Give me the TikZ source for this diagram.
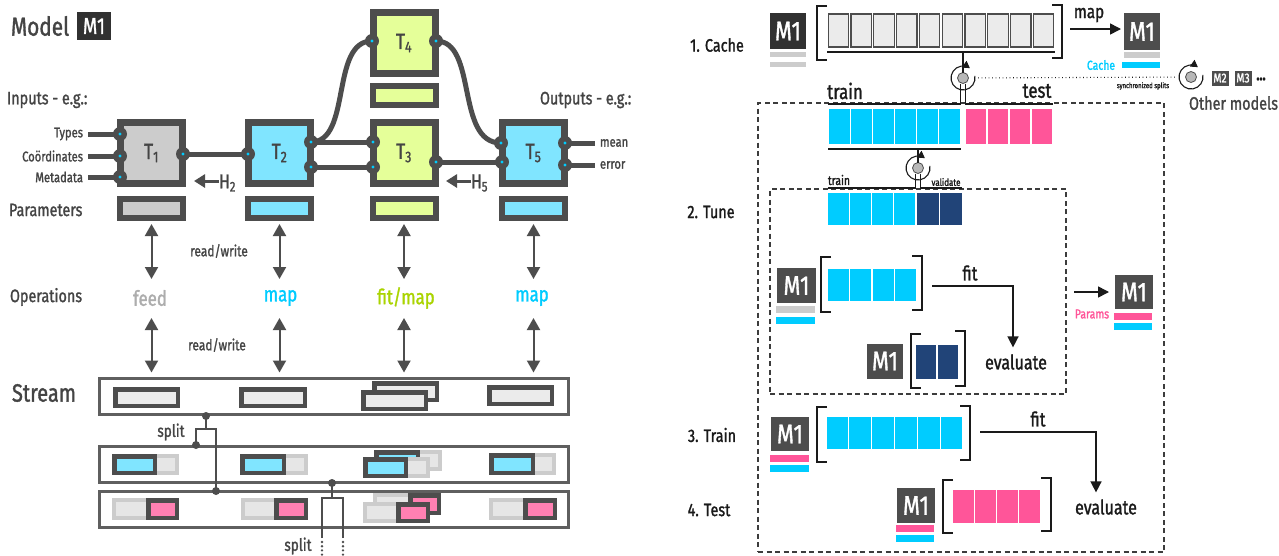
\documentclass[tikz,border=0pt]{standalone}
\usepackage{fontspec}
\setmainfont{Fira Sans}[FakeStretch=0.8, FakeBold=1.3]
\usetikzlibrary{arrows.meta}
\definecolor{dg}{HTML}{4D4D4D}
\definecolor{tx}{HTML}{444444}
\definecolor{blk}{HTML}{1A1A1A}
\definecolor{lcyan}{HTML}{80E5FF}
\definecolor{cyn}{HTML}{00CCFF}
\definecolor{pnk}{HTML}{FF5599}
\definecolor{lpnk}{HTML}{FF80B2}
\definecolor{ylw}{HTML}{E5FF99}
\definecolor{ygrn}{HTML}{AAD400}
\definecolor{lgr}{HTML}{CCCCCC}
\definecolor{fgr}{HTML}{E6E6E6}
\definecolor{vlgr}{HTML}{EBEBEB}
\definecolor{dblue}{HTML}{214478}
\newcommand\myfs[1]{\fontsize{#1}{#1}\selectfont}
\newcommand\cellrow[6]{\foreach \i in {1,...,#3}{\filldraw[fill=#6,draw=white,line width=1.2pt] ({#1+(\i-1)*#2},#4) rectangle ({#1+\i*#2},#5);}}
\newcommand\brkt[6]{\draw[brk] ({#1+10},#3) -| (#1,#4) -- ({#1+10},#4); \draw[brk] ({#2-10},#5) -| (#2,#6) -- ({#2-10},#6);}
\newcommand\fadedbox[4]{\fill[lgr] (#1,#2) rectangle (#3,#4); \fill[fgr] ({#1+4},{#2+4}) rectangle ({#3-4},{#4-4});}
\newcommand\stbox[5]{\filldraw[fill=#5,draw=dg,line width=4.5pt] ({#1+2.25},{#2+2.25}) rectangle ({#3-2.25},{#4-2.25});}
\newcommand\ringarc[1]{\draw[ringl] ([shift={(10:12pt)}]#1.center) arc[start angle=10, end angle=-305, radius=12pt];}
\pgfdeclarelayer{bg}\pgfdeclarelayer{wires}
\pgfsetlayers{bg,wires,main}
\begin{document}
\begin{tikzpicture}[x=1pt,y=-1pt,
  every node/.style={inner sep=0pt, outer sep=0pt},
  tbox/.style={draw=dg, line width=7pt, minimum width=62pt, minimum height=61pt, font=\myfs{22}, text=tx},
  pbox/.style={draw=dg, line width=6pt, minimum width=63pt, minimum height=19pt},
  port/.style={circle, fill=dg, minimum size=14pt, path picture={\fill[cyn] (path picture bounding box.center) circle (1.7pt);}},
  wire/.style={draw=dg, line width=5pt},
  lab/.style={text=tx, font=\myfs{14}},
  harrow/.style={draw=dg, line width=3pt, -{Triangle[length=11pt,width=13pt]}},
  darr/.style={draw=dg, line width=2pt, {Triangle[length=12pt,width=13pt]}-{Triangle[length=12pt,width=13pt]}},
  sbar/.style={draw=dg!90, line width=3pt, minimum width=469pt, minimum height=36pt},
  sdot/.style={circle, fill=dg, minimum size=8pt},
  sline/.style={draw=dg, line width=1.6pt},
  mbox/.style={fill=dg, text=white, font=\myfs{27}, minimum width=37pt, minimum height=35pt},
  brk/.style={draw=blk, line width=1.5pt},
  ringl/.style={draw=blk, line width=1.1pt, -{Triangle[length=7pt,width=8pt]}},
  hub/.style={circle, fill=lgr!90!black, draw=dg, line width=0.8pt, minimum size=11pt},
  thl/.style={draw=blk, line width=1.3pt},
  barr/.style={draw=blk, line width=1.5pt, -{Triangle[length=11pt,width=11pt]}},
  dbox/.style={draw=blk!85, line width=1.3pt, dash pattern=on 5pt off 3.5pt},
  rt/.style={text=blk, font=\myfs{20}}
]
\begin{pgfonlayer}{bg}
\fill[white] (0,0) rectangle (1279,555);
\end{pgfonlayer}
\useasboundingbox (0,0) rectangle (1279,555);

% ================= LEFT: model =================
\node[anchor=west, text=tx, font=\myfs{26}] (model) at (11,26) {Model};
\node[fill=blk!90, text=white, font=\myfs{23}, minimum width=34pt, minimum height=28pt] (mm1) at (94,26) {M1};

\node[anchor=west, text=tx, font=\myfs{18}] (inlab) at (7,100) {Inputs - e.g.:};
\node[anchor=west, text=tx, font=\myfs{18}] (outlab) at (540,100) {Outputs - e.g.:};

% transformer boxes
\node[tbox, fill=lgr]   (T1) at (151.5,153) {T\textsubscript{1}};
\node[tbox, fill=lcyan] (T2) at (279.5,153) {T\textsubscript{2}};
\node[tbox, fill=ylw]   (T3) at (404,153)   {T\textsubscript{3}};
\node[tbox, fill=ylw]   (T4) at (404,43)    {T\textsubscript{4}};
\node[tbox, fill=lcyan] (T5) at (533.5,153) {T\textsubscript{5}};

% parameter boxes
\node[pbox, fill=lgr]   (P1) at (151.5,208.5) {};
\node[pbox, fill=lcyan] (P2) at (279.5,208.5) {};
\node[pbox, fill=ylw]   (P3) at (404,208.5)   {};
\node[pbox, fill=ylw]   (P4) at (404,95.5)    {};
\node[pbox, fill=lcyan] (P5) at (533.5,208.5) {};

% ports
\node[port] (t1a) at (120,134) {};
\node[port] (t1b) at (120,156) {};
\node[port] (t1c) at (120,177) {};
\node[port] (t1o) at (183,154) {};
\node[port] (t2i) at (248,154) {};
\node[port] (t2o1) at (311,142) {};
\node[port] (t2o2) at (311,167) {};
\node[port] (t3i1) at (373,142) {};
\node[port] (t3i2) at (373,167) {};
\node[port] (t3o) at (436,162) {};
\node[port] (t4i) at (372,41) {};
\node[port] (t4o) at (436,41) {};
\node[port] (t5i1) at (501,143) {};
\node[port] (t5i2) at (502,162) {};
\node[port] (t5o1) at (565,143) {};
\node[port] (t5o2) at (565,165) {};

% input / output labels
\node[lab, anchor=east] (ltypes) at (83,134) {Types};
\node[lab, anchor=east] (lcoord) at (83,156) {Coördinates};
\node[lab, anchor=east] (lmeta) at (83,177) {Metadata};
\node[lab, anchor=west] (lmean) at (600,143) {mean};
\node[lab, anchor=west] (lerr) at (600,165) {error};

\begin{pgfonlayer}{wires}
\draw[wire] ([xshift=5pt]ltypes.east) -- (t1a.center);
\draw[wire] ([xshift=5pt]lcoord.east) -- (t1b.center);
\draw[wire] ([xshift=5pt]lmeta.east) -- (t1c.center);
\draw[wire] (t1o.center) -- (t2i.center);
\draw[wire] (t2o1.center) -- (t3i1.center);
\draw[wire] (t2o2.center) -- (t3i2.center);
\draw[wire] (t3o.center) -- (t5i2.center);
\draw[wire] (t2o1.center) .. controls (352,142) and (330,41) .. (t4i.center);
\draw[wire] (t4o.center) .. controls (478,41) and (455,143) .. (t5i1.center);
\draw[wire] (t5o1.center) -- ([xshift=-5pt]lmean.west);
\draw[wire] (t5o2.center) -- ([xshift=-5pt]lerr.west);
\end{pgfonlayer}

% H arrows
\node[text=tx, font=\myfs{20}, anchor=west] (h2) at (219,183) {H\textsubscript{2}};
\coordinate (h2t) at (194,181);
\draw[harrow] ([yshift=2pt]h2.west) -- (h2t);
\node[text=tx, font=\myfs{20}, anchor=west] (h5) at (471,183) {H\textsubscript{5}};
\coordinate (h5t) at (446,181);
\draw[harrow] ([yshift=2pt]h5.west) -- (h5t);

% row labels
\node[anchor=west, text=tx, font=\myfs{18}] (lpar) at (9,210) {Parameters};
\node[anchor=west, text=tx, font=\myfs{18}] (lops) at (10,297) {Operations};
\node[anchor=west, text=tx, font=\myfs{25}] (lstr) at (12,393) {Stream};
\node[text=tx, font=\myfs{15}] (rw1) at (219,251) {read/write};
\node[text=tx, font=\myfs{15}] (rw2) at (217,345) {read/write};

% operations
\node[text=lgr!85!black, font=\myfs{21}] (opf) at (150,298) {feed};
\node[text=cyn, font=\myfs{21}] (opm1) at (280.5,298) {map};
\node[text=ygrn, font=\myfs{21}] (opfm) at (406,298) {fit/map};
\node[text=cyn, font=\myfs{21}] (opm2) at (532,298) {map};

% stream boxes
\node[sbar] (stream) at (334,396.5) {};
\node[sbar] (trs) at (334,464) {};
\node[sbar] (tes) at (334,509) {};

% double arrows
\foreach \p/\o in {P1/opf,P2/opm1,P3/opfm,P5/opm2}{
  \draw[darr] ([yshift=-6pt]\p.south) -- ([yshift=19pt]\p.center |- \o.center);
  \draw[darr] ([yshift=-20pt]\p.center |- \o.center) -- ([yshift=6pt]\p.center |- stream.north);
}

% stream items
\stbox{113}{387}{180}{408}{vlgr}
\stbox{239}{387}{307}{408}{vlgr}
\stbox{372}{381}{439}{402}{vlgr}
\stbox{361}{390}{428}{411}{vlgr}
\stbox{487}{385}{554}{406}{vlgr}
% train stream
\fadedbox{112}{454}{179}{475}\stbox{112}{454}{157}{475}{lcyan}
\fadedbox{240}{454}{308}{475}\stbox{240}{454}{286}{475}{lcyan}
\fadedbox{374}{450}{442}{471}\stbox{374}{450}{420}{471}{lcyan}
\fadedbox{363}{457}{430}{478}\stbox{363}{457}{408}{478}{lcyan}
\fadedbox{489}{453}{556}{475}\stbox{489}{453}{535}{475}{lcyan}
% test stream
\fadedbox{112}{498}{179}{520}\stbox{146}{498}{179}{520}{lpnk}
\fadedbox{241}{498}{308}{520}\stbox{274}{498}{308}{520}{lpnk}
\fadedbox{373}{493}{441}{515}\stbox{408}{493}{441}{515}{lpnk}
\fadedbox{363}{502}{430}{523}\stbox{396}{502}{430}{523}{lpnk}
\fadedbox{489}{498}{557}{520}\stbox{523}{498}{557}{520}{lpnk}

% splits
\node[sdot] (sd1) at (206,416) {};
\node[sdot] (sd2) at (196,445) {};
\node[sdot] (sd3) at (216,491) {};
\coordinate (sj1) at (206,429);
\draw[sline] (sd1.center) -- (sj1);
\draw[sline] (sd2.center) |- (sj1);
\draw[sline] (sd3.center) |- (sj1);
\node[text=tx, font=\myfs{17}] (spl1) at (171,432) {split};
\node[sdot] (sd4) at (332,483) {};
\coordinate (sj2) at (332,498);
\coordinate (se1) at (322,538);
\coordinate (se2) at (343,538);
\draw[sline] (sd4.center) -- (sj2);
\draw[sline] (se1) |- (sj2);
\draw[sline] (se2) |- (sj2);
\draw[dg, line width=2.6pt, line cap=round, dash pattern=on 0pt off 4.2pt] ([yshift=-4pt]se1) -- ++(0,16);
\draw[dg, line width=2.6pt, line cap=round, dash pattern=on 0pt off 4.2pt] ([yshift=-4pt]se2) -- ++(0,16);
\node[text=tx, font=\myfs{17}] (spl2) at (298,546) {split};

% ================= RIGHT: pipeline =================
\node[dbox, minimum width=406pt, minimum height=449pt] (cvbox) at (961,327.5) {};
\node[dbox, minimum width=296pt, minimum height=205pt] (tunebox) at (918,291.5) {};

\node[rt, font=\myfs{18}] (s1) at (717,45) {1. Cache};
\node[rt, font=\myfs{18}] (s2) at (711,212) {2. Tune};
\node[rt, font=\myfs{18}] (s3) at (712,435) {3. Train};
\node[rt, font=\myfs{18}] (s4) at (709,510) {4. Test};

% cache row
\node[mbox, fill=blk!90, minimum width=36pt, minimum height=36pt] (mc1) at (788,31) {M1};
\fill[lgr] (770,52) rectangle (806,57);
\fill[lgr] (770,62) rectangle (806,67);
\brkt{817}{1062}{6}{60}{5}{58}
\foreach \i in {1,...,10}{\filldraw[fill=vlgr,draw=dg,line width=1.3pt] ({827+(\i-1)*22.8+1.2},14) rectangle ({827+\i*22.8-1.2},47);}
\draw[thl] (827,52) -- (1055,52);
\node[rt, font=\myfs{19}] (mapl) at (1089,15) {map};
\node[mbox, minimum width=36pt, minimum height=37pt] (mc2) at (1142,31.5) {M1};
\coordinate (mapst) at (1070,29);
\draw[barr, shorten >=3pt] (mapst) -- (mc2.west |- mapst);
\fill[lgr] (1124,52) rectangle (1160,58);
\fill[cyn] (1122,62) rectangle (1160,68);
\node[text=cyn, font=\myfs{13}] (cachel) at (1101,65) {Cache};

% split 1
\node[hub] (r1) at (963,78) {};
\ringarc{r1}
\coordinate (cu) at (963,52);
\draw[thl] (cu) -- (r1.north);
\draw[thl] ([xshift=-2.5pt]r1.south) |- (828,104);
\draw[thl] ([xshift=2.5pt]r1.south) |- (1053,104);
\node[hub] (r2) at (1191,77) {};
\ringarc{r2}
\draw[blk, line width=1.1pt, dash pattern=on 0.9pt off 2.6pt, shorten <=15pt, shorten >=15pt] (r1.center) -- (r2.center);
\node[text=blk, font=\myfs{7.5}] (sync) at (1143,86) {synchronized splits};
\node[fill=dg, text=white, font=\myfs{13}, minimum width=17pt, minimum height=15pt] (m2) at (1220,78) {M2};
\node[fill=dg, text=white, font=\myfs{13}, minimum width=17pt, minimum height=15pt] (m3) at (1243,78) {M3};
\node[text=blk, font=\myfs{16}\bfseries] (dots) at (1261,79) {...};
\node[text=tx, font=\myfs{18}, anchor=east] (others) at (1278,103) {Other models};

\node[rt, font=\myfs{21}] (trl) at (845,91) {train};
\node[rt, font=\myfs{21}] (tsl) at (1037,91) {test};
\cellrow{828}{22.17}{6}{108}{145}{cyn}
\cellrow{965}{22}{4}{108}{145}{pnk}
\draw[thl] (828,149) -- (961,149);

% split 2
\node[hub] (r3) at (918,168) {};
\ringarc{r3}
\coordinate (cu2) at (918,149);
\draw[thl] (cu2) -- (r3.north);
\draw[thl] ([xshift=-2.5pt]r3.south) |- (828,188);
\draw[thl] ([xshift=2.5pt]r3.south) |- (962,188);
\node[text=blk, font=\myfs{13}] (trl2) at (839,180) {train};
\node[text=blk, font=\myfs{10}] (vall) at (946,182) {validate};
\cellrow{827}{22.25}{4}{192}{226}{cyn}
\cellrow{916}{23.5}{2}{192}{226}{dblue}

% tune fit
\node[mbox, minimum width=39pt, minimum height=35pt] (mt1) at (796.5,285.5) {M1};
\fill[lgr] (776,306) rectangle (815,313);
\fill[cyn] (776,317) rectangle (815,324);
\brkt{821}{922}{257}{312}{256}{310}
\cellrow{827}{22.5}{4}{268}{302}{cyn}
\node[rt] (fit1) at (970,273) {fit};
\coordinate (fs1) at (932,286);
\node[rt] (ev1) at (1016,362) {evaluate};
\draw[barr] (fs1) -| ([xshift=-3pt,yshift=7pt]ev1.north);
\node[mbox, minimum width=36pt, minimum height=35pt] (mt2) at (885,361) {M1};
\brkt{911}{965}{334}{388}{331}{386}
\cellrow{915}{22}{2}{344}{380}{dblue}

% params result
\node[mbox, minimum width=38pt, minimum height=34pt] (mp) at (1134,292) {M1};
\coordinate (pst) at (1074,292);
\draw[barr, shorten >=6pt] (pst) -- (mp.west);
\fill[pnk] (1114,313) rectangle (1152,320);
\fill[cyn] (1114,323) rectangle (1152,330);
\node[text=pnk, font=\myfs{13}] (paraml) at (1092,314) {Params};

% train
\node[mbox, minimum width=38pt, minimum height=34pt] (mtr) at (790,434) {M1};
\fill[pnk] (770,455) rectangle (809,462);
\fill[cyn] (770,465) rectangle (809,472);
\brkt{817}{970}{407}{462}{406}{460}
\cellrow{826}{22.83}{6}{416}{450}{cyn}
\node[rt] (fit2) at (1038,419) {fit};
\coordinate (fs2) at (980,432);
\node[rt] (ev2) at (1106,507) {evaluate};
\draw[barr] (fs2) -| ([xshift=-10pt,yshift=7pt]ev2.north);

% test
\node[mbox, minimum width=38pt, minimum height=35pt] (mts) at (916,505.5) {M1};
\fill[pnk] (896,525) rectangle (934,532);
\fill[cyn] (896,535) rectangle (934,542);
\brkt{943}{1051}{480}{533}{478}{531}
\cellrow{952}{22.25}{4}{489}{524}{pnk}
\end{tikzpicture}
\end{document}
